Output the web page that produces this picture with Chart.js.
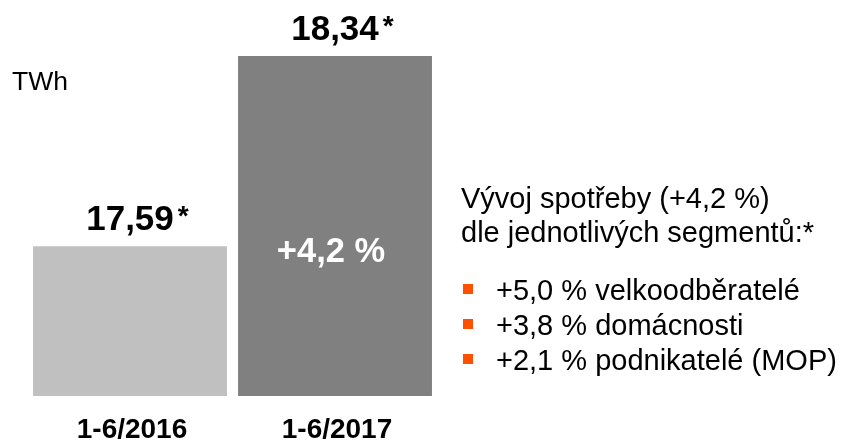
<!DOCTYPE html>
<html>
<head>
<meta charset="utf-8">
<script src="https://cdn.jsdelivr.net/npm/chart.js@4/dist/chart.umd.min.js"></script>
<style>
  body { margin: 0; background: #fff; font-family: "Liberation Sans", Arial, sans-serif; }
  #wrap { position: relative; width: 845px; height: 440px; overflow: hidden; }
  #myChart { position: absolute; left: 0; top: 0; }
  .txt { position: absolute; white-space: nowrap; color: #000; font-size: 29px; line-height: 34px; }
  .bullet { position: absolute; width: 10px; height: 10px; background: #ff5000; }
</style>
</head>
<body>
<div id="wrap">
  <canvas id="myChart" width="845" height="440"></canvas>
  <div class="txt" style="left:12px; top:66px; font-size:26.5px; line-height:30px;">TWh</div>
  <div class="txt" style="left:461px; top:181px;">Vývoj spotřeby (+4,2 %)</div>
  <div class="txt" style="left:461px; top:215px;">dle jednotlivých segmentů:*</div>
  <div id="segments"></div>
</div>
<script>
// data
var labels = ["1-6/2016", "1-6/2017"];
var values = [17.59, 18.34];
var barColors = ["#c0c0c0", "#808080"];
var changeLabel = "+4,2 %";
var segmentValues = ["+5,0 %", "+3,8 %", "+2,1 %"];
var segmentNames = ["velkoodběratelé", "domácnosti", "podnikatelé (MOP)"];

// right side list
var seg = document.getElementById('segments');
segmentNames.forEach(function(name, i) {
    var top = 273 + i * 35;
    seg.innerHTML += '<div class="bullet" style="left:463px; top:' + (top + 11) + 'px;"></div>' +
        '<div class="txt" style="left:496px; top:' + top + 'px;">' + segmentValues[i] + ' ' + name + '</div>';
});

var fmt = function(v) { return v.toFixed(2).replace('.', ','); };

var barLabels = {
    id: 'barLabels',
    afterDatasetsDraw: function(chart) {
        var c = chart.ctx;
        var meta = chart.getDatasetMeta(0);
        c.save();
        c.textBaseline = 'alphabetic';
        meta.data.forEach(function(bar, i) {
            // value above bar
            c.font = 'bold 35px "Liberation Sans", Arial, sans-serif';
            c.fillStyle = '#000';
            c.textAlign = 'center';
            var txt = fmt(values[i]);
            var ty = bar.y - 16;
            c.fillText(txt, bar.x, ty);
            var w = c.measureText(txt).width;
            c.font = 'bold 28px "Liberation Sans", Arial, sans-serif';
            c.textAlign = 'left';
            c.fillText('*', bar.x + w / 2 + 4, ty - 5);
            // category label below
            c.font = 'bold 28px "Liberation Sans", Arial, sans-serif';
            c.textAlign = 'center';
            c.fillText(labels[i], bar.x + 2, chart.chartArea.bottom + 42);
        });
        // change inside second bar
        var last = meta.data[meta.data.length - 1];
        c.font = 'bold 34.5px "Liberation Sans", Arial, sans-serif';
        c.fillStyle = '#fff';
        c.textAlign = 'center';
        c.fillText(changeLabel, last.x - 4, 262);
        c.restore();
    }
};

var ctx = document.getElementById("myChart").getContext('2d');
var myChart = new Chart(ctx, {
    type: 'bar',
    data: {
        labels: labels,
        datasets: [{
            data: values,
            backgroundColor: barColors,
            borderWidth: 0,
            barPercentage: 0.946,
            categoryPercentage: 1
        }]
    },
    options: {
        responsive: false,
        animation: false,
        layout: { padding: { left: 27.5, right: 407.5, top: 56, bottom: 44 } },
        plugins: { legend: { display: false }, tooltip: { enabled: false } },
        scales: {
            x: { display: false },
            y: { display: false, min: 17, max: 18.34 }
        }
    },
    plugins: [barLabels]
});
</script>
</body>
</html>
